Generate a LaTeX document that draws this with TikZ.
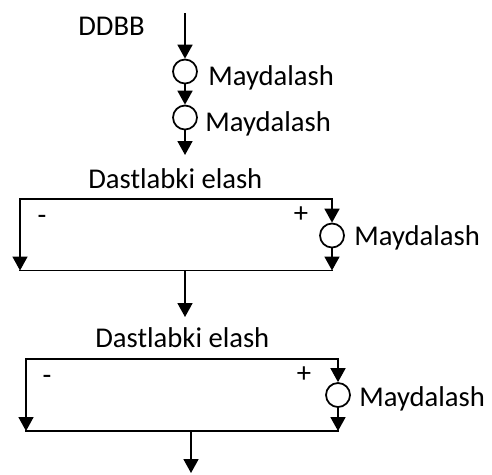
\documentclass[tikz,border=0pt]{standalone}
\usepackage{fontspec}
\setmainfont{Carlito}
\usetikzlibrary{arrows.meta,positioning}
\tikzset{
  crusher/.style={circle,draw,line width=1pt,minimum size=0.48cm,inner sep=0pt},
  flow/.style={-{Triangle[length=0.28cm,width=0.3cm]},line width=1pt},
  pipe/.style={line width=1pt,line cap=rect},
  lbl/.style={font=\fontsize{16.3}{18}\selectfont,inner sep=0pt,anchor=base west},
  sign/.style={font=\fontsize{16.3}{18}\selectfont,inner sep=0pt}
}

\begin{document}
\begin{tikzpicture}[x=0.02cm,y=-0.02cm]
    \useasboundingbox (0,0) rectangle (492,474);
    % feed and two crushers
    \coordinate (feed) at (185,13);
    \node[lbl] (ddbb) at (78,35) {DDBB};
    \node[crusher] (c1) at (185,71.5) {};
    \node[crusher] (c2) at (185,117.5) {};
    \coordinate (feedout) at (185,155);
    \node[lbl] (m1) at (208,85) {Maydalash};
    \node[lbl] (m2) at (205,131) {Maydalash};
    \draw[flow] (feed) -- (c1);
    \draw[flow] (c1) -- (c2);
    \draw[flow] (c2) -- (feedout);

    % first screening
    \node[lbl] (s1) at (88,188) {Dastlabki elash};
    \coordinate (tl1) at (20,199);
    \coordinate (tr1) at (332,199);
    \coordinate (bl1) at (20,270.5);
    \coordinate (br1) at (332,270.5);
    \node[crusher] (c3) at (332,235.5) {};
    \node[lbl] (m3) at (354,245) {Maydalash};
    \node[sign] (minus1) at (42,220) {-};
    \node[sign] (plus1) at (301,215) {+};
    \coordinate (out1a) at (185,270.5);
    \coordinate (out1b) at (185,317);
    \draw[pipe] (tl1) -- (tr1);
    \draw[flow] (tl1) -- (bl1);
    \draw[flow] (tr1) -- (c3);
    \draw[flow] (c3) -- (br1);
    \draw[pipe] (bl1) -- (br1);
    \draw[flow] (out1a) -- (out1b);

    % second screening
    \node[lbl] (s2) at (95,347) {Dastlabki elash};
    \coordinate (tl2) at (26,359);
    \coordinate (tr2) at (338,359);
    \coordinate (bl2) at (26,431);
    \coordinate (br2) at (338,431);
    \node[crusher] (c4) at (338,395) {};
    \node[lbl] (m4) at (359,406) {Maydalash};
    \node[sign] (minus2) at (47,380) {-};
    \node[sign] (plus2) at (304,375) {+};
    \coordinate (out2a) at (191,431);
    \coordinate (out2b) at (191,473);
    \draw[pipe] (tl2) -- (tr2);
    \draw[flow] (tl2) -- (bl2);
    \draw[flow] (tr2) -- (c4);
    \draw[flow] (c4) -- (br2);
    \draw[pipe] (bl2) -- (br2);
    \draw[flow] (out2a) -- (out2b);
  \end{tikzpicture}
\end{document}
